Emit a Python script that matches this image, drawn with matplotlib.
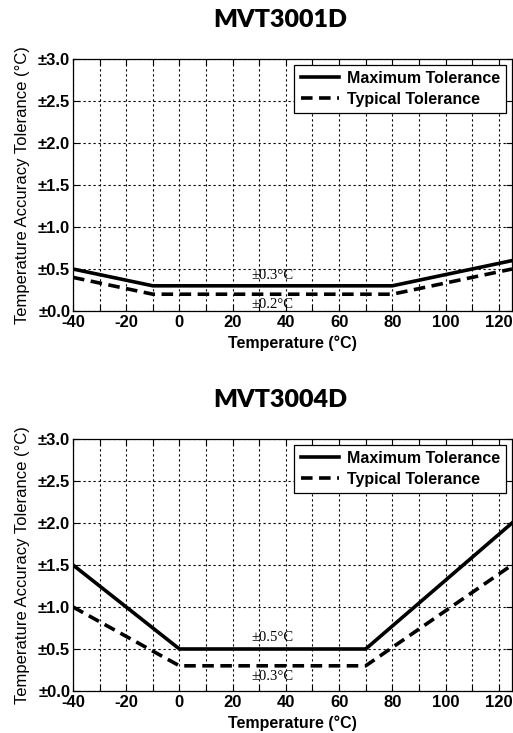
import numpy as np
import matplotlib
matplotlib.use("Agg")
import matplotlib.pyplot as plt

# data
titles = ["MVT3001D", "MVT3004D"]
temp_pts = [[-40, -10, 80, 125], [-40, 0, 70, 125]]
max_tol = [[0.5, 0.3, 0.3, 0.6], [1.5, 0.5, 0.5, 2.0]]
typ_tol = [[0.4, 0.2, 0.2, 0.5], [1.0, 0.3, 0.3, 1.5]]
max_label = ["±0.3°C", "±0.5°C"]
typ_label = ["±0.2°C", "±0.3°C"]
label_x = 35
max_label_y = [0.42, 0.64]
typ_label_y = [0.08, 0.17]

y_ticks = [0.0, 0.5, 1.0, 1.5, 2.0, 2.5, 3.0]
x_ticks = [-40, -20, 0, 20, 40, 60, 80, 100, 120]

plt.rcParams['font.family'] = ['Liberation Sans', 'DejaVu Sans']

fig = plt.figure(figsize=(5.13, 7.33), dpi=100)
ax_pos = [[0.1423, 0.5757, 0.8558, 0.3438], [0.1423, 0.0573, 0.8558, 0.3438]]
title_y = [0.9727, 0.4543]

for i in range(2):
    ax = fig.add_axes(ax_pos[i])
    ax.plot(temp_pts[i], max_tol[i], color='black', lw=2.6, label='Maximum Tolerance',
            solid_joinstyle='miter')
    ax.plot(temp_pts[i], typ_tol[i], color='black', lw=2.6, ls=(0, (3.2, 1.8)),
            label='Typical Tolerance')
    ax.set_xlim(-40, 125)
    ax.set_ylim(0, 3)
    ax.set_xticks(x_ticks)
    ax.set_xticklabels([str(v) for v in x_ticks])
    ax.set_xticks(np.arange(-30, 125, 10), minor=True)
    ax.set_yticks(y_ticks)
    ax.set_yticklabels(["±%.1f" % v for v in y_ticks])
    ax.grid(True, which='both', color='black', lw=0.8, ls=(0, (2, 2.5)))
    ax.tick_params(which='both', direction='in', top=True, right=True, length=4, width=0.8)
    ax.tick_params(axis='x', which='major', labelsize=12, pad=3)
    ax.tick_params(axis='y', which='major', labelsize=12, pad=2)
    for lab in ax.get_xticklabels() + ax.get_yticklabels():
        lab.set_fontweight('bold')
    for s in ax.spines.values():
        s.set_linewidth(0.9)
    ax.set_xlabel("Temperature (°C)", fontsize=11.5, fontweight='bold', labelpad=4)
    ax.set_ylabel("Temperature Accuracy Tolerance (°C)", fontsize=12)
    ax.yaxis.set_label_coords(-0.099, 0.5)
    ax.text(label_x, max_label_y[i], max_label[i], ha='center', va='center', fontsize=10.5,
            family='Liberation Serif')
    ax.text(label_x, typ_label_y[i], typ_label[i], ha='center', va='center', fontsize=10.5,
            family='Liberation Serif')
    leg = ax.legend(loc='upper right', prop={'weight': 'bold', 'size': 11.5},
                    fancybox=False, framealpha=1, edgecolor='black', handlelength=2.4,
                    handletextpad=0.5, borderaxespad=0.35, labelspacing=0.35)
    leg.get_frame().set_linewidth(0.9)
    fig.text(0.546, title_y[i], titles[i], ha='center', va='center', fontsize=18,
             fontweight='heavy', family='Lato')

fig.savefig("out.png", dpi=100)
